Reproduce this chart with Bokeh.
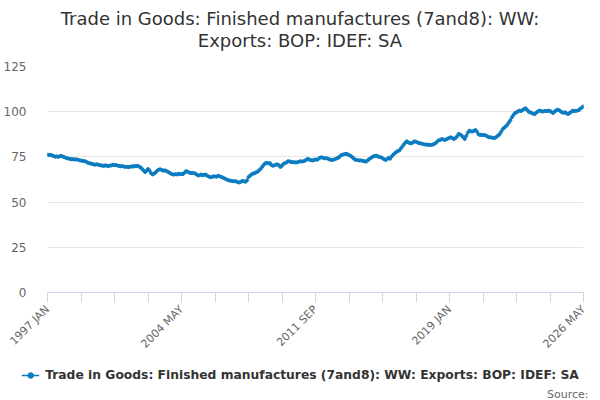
import math

from bokeh.embed import file_html
from bokeh.layouts import column
from bokeh.models import Div, FixedTicker, Legend, LegendItem, Title
from bokeh.plotting import figure
from bokeh.resources import INLINE

# monthly values, 1997 JAN .. 2026 MAY
values = [
    76.3, 76.0, 76.2, 75.8, 75.5, 75.1, 75.3, 75.0, 75.4, 75.6, 75.2, 74.9,  # 1997
    74.5, 74.3, 74.0, 73.9, 73.6, 73.8, 73.5, 73.7, 73.4, 73.1, 73.0, 72.8,  # 1998
    72.7, 72.5, 72.0, 71.6, 71.4, 71.2, 71.0, 70.6, 70.9, 70.8, 70.5, 70.3,  # 1999
    70.2, 70.0, 70.4, 70.1, 69.9, 70.2, 70.3, 70.6, 70.4, 70.5, 70.2, 70.0,  # 2000
    69.8, 69.9, 69.7, 69.5, 69.6, 69.3, 69.5, 69.8, 69.6, 70.0, 69.8, 70.1,  # 2001
    69.7, 69.2, 68.5, 67.6, 66.6, 67.2, 68.3, 67.5, 66.0, 65.3, 65.8, 66.4,  # 2002
    67.3, 67.9, 68.2, 67.8, 67.4, 67.6, 67.2, 66.8, 66.3, 65.8, 65.4, 65.2,  # 2003
    65.5, 65.3, 65.7, 65.4, 65.6, 65.5, 66.3, 67.1, 66.8, 66.4, 66.0, 66.2,  # 2004
    66.0, 65.8, 65.2, 64.7, 64.9, 65.3, 64.8, 65.1, 65.2, 64.5, 64.1, 63.8,  # 2005
    63.9, 64.3, 64.2, 64.0, 64.5, 64.3, 64.0, 63.6, 63.2, 62.8, 62.4, 62.0,  # 2006
    61.9, 61.7, 61.5, 61.6, 61.4, 61.0, 60.8, 61.3, 61.7, 61.5, 61.2, 62.0,  # 2007
    63.9, 64.6, 65.3, 65.8, 66.0, 66.5, 66.8, 67.6, 68.4, 69.5, 70.6, 71.5,  # 2008
    71.7, 71.4, 71.6, 70.5, 70.1, 70.4, 70.7, 70.9, 70.3, 69.4, 70.2, 71.2,  # 2009
    71.5, 72.0, 72.6, 72.5, 72.2, 72.0, 72.1, 71.9, 72.0, 72.3, 72.6, 72.4,  # 2010
    72.6, 72.9, 73.4, 73.9, 73.5, 73.2, 73.0, 73.3, 73.6, 73.4, 74.0, 74.6,  # 2011
    74.8, 74.5, 74.2, 74.3, 74.1, 73.6, 73.4, 73.3, 73.5, 73.8, 74.2, 74.5,  # 2012
    75.3, 76.0, 76.3, 76.5, 76.7, 76.5, 76.0, 75.6, 75.0, 74.2, 73.5, 73.3,  # 2013
    73.2, 73.0, 73.1, 72.8, 72.6, 72.4, 72.9, 73.6, 74.2, 74.8, 75.3, 75.5,  # 2014
    75.7, 75.3, 74.9, 74.8, 74.3, 73.7, 73.3, 73.8, 74.5, 74.0, 75.2, 76.2,  # 2015
    77.0, 77.6, 78.3, 78.5, 79.6, 80.7, 81.8, 82.9, 83.6, 83.0, 82.6, 82.5,  # 2016
    83.0, 83.6, 83.4, 83.0, 82.6, 82.5, 82.3, 82.0, 81.8, 81.9, 81.6, 81.7,  # 2017
    81.6, 81.8, 82.2, 82.7, 83.6, 84.2, 84.4, 84.9, 84.6, 84.4, 84.8, 85.2,  # 2018
    85.6, 85.8, 85.3, 84.9, 85.5, 86.4, 87.7, 87.4, 86.8, 85.9, 84.9, 86.6,  # 2019
    88.4, 89.5, 89.2, 89.0, 89.4, 89.9, 89.0, 87.6, 87.1, 87.3, 87.0, 87.1,  # 2020
    86.8, 86.3, 85.8, 85.9, 85.6, 85.5, 85.6, 86.2, 86.9, 87.7, 89.0, 90.5,  # 2021
    91.2, 91.9, 92.8, 94.1, 95.3, 96.9, 98.2, 99.3, 99.6, 100.2, 100.6, 100.4,  # 2022
    100.9, 101.5, 101.9, 101.0, 100.0, 99.6, 99.3, 98.9, 98.7, 99.5, 100.1, 100.6,  # 2023
    100.4, 100.1, 100.2, 100.5, 100.3, 100.6, 100.4, 99.8, 99.3, 100.0, 100.7, 101.1,  # 2024
    100.8, 100.2, 99.6, 99.4, 99.7, 99.0, 98.7, 99.4, 100.0, 100.6, 100.3, 100.5,  # 2025
    100.6, 100.9, 101.8, 102.3, 103.0,  # 2026
]
months = list(range(len(values)))

x_ticks = list(range(0, 353, 22))
x_labels = {0: "1997 JAN", 88: "2004 MAY", 176: "2011 SEP", 264: "2019 JAN", 352: "2026 MAY"}
y_ticks = [0, 25, 50, 75, 100, 125]

series_name = "Trade in Goods: Finished manufactures (7and8): WW: Exports: BOP: IDEF: SA"
title_lines = ["Trade in Goods: Finished manufactures (7and8): WW:", "Exports: BOP: IDEF: SA"]

FONT = "DejaVu Sans"
BLUE = "#0b7cc1"

# two-line centred heading
head = Div(text="<br>".join(title_lines), width=600, height=58, margin=0,
           styles={"font-family": FONT, "font-size": "18px", "line-height": "22px",
                   "color": "#333333", "text-align": "center", "padding-top": "8px",
                   "box-sizing": "border-box", "width": "600px"})

p = figure(width=600, height=300, output_backend="svg", toolbar_location=None,
           x_range=(0, 352), y_range=(0, 125),
           min_border_left=46, min_border_right=17, min_border_top=8,
           min_border_bottom=66)
p.outline_line_color = None
p.title.visible = False

line = p.line(months, values, line_color=BLUE, line_width=1.5)
dots = p.scatter(months, values, size=3, fill_color=BLUE, line_color=BLUE)

# x axis
xa = p.xaxis[0]
xa.ticker = FixedTicker(ticks=x_ticks)
xa.major_label_overrides = {t: x_labels.get(t, "") for t in x_ticks}
xa.major_label_orientation = math.pi / 4
xa.major_label_text_font = FONT
xa.major_label_text_font_size = "11px"
xa.major_label_text_color = "#666666"
xa.axis_line_color = "#ccd6eb"
xa.major_tick_line_color = "#ccd6eb"
xa.major_tick_out = 10
xa.major_tick_in = 0
xa.minor_tick_line_color = None
p.xgrid.grid_line_color = None

# y axis
ya = p.yaxis[0]
ya.ticker = FixedTicker(ticks=y_ticks)
ya.axis_line_color = None
ya.major_tick_line_color = None
ya.minor_tick_line_color = None
ya.major_label_text_font = FONT
ya.major_label_text_font_size = "12px"
ya.major_label_text_color = "#666666"
ya.major_label_standoff = 15
p.ygrid.grid_line_color = "#e6e6e6"

# legend + source strip under the chart; the key glyphs reuse the first
# data point but the strip's ranges keep it out of view
leg = figure(width=600, height=42, output_backend="svg", toolbar_location=None,
             x_range=(-10, -5), y_range=(-10, -5),
             min_border_left=0, min_border_right=0, min_border_top=10,
             min_border_bottom=0)
leg.outline_line_color = None
leg.axis.visible = False
leg.grid.grid_line_color = None
leg.title.visible = False
key_line = leg.line(months[:1], values[:1], line_color=BLUE, line_width=1.5)
key_dot = leg.scatter(months[:1], values[:1], size=4, fill_color=BLUE, line_color=BLUE)

legend = Legend(items=[LegendItem(label=series_name, renderers=[key_line, key_dot])],
                orientation="horizontal", location="top_center",
                label_text_font=FONT, label_text_font_size="12.3px",
                label_text_font_style="bold", label_text_color="#333333",
                glyph_width=18, glyph_height=14, label_standoff=6, padding=0, margin=0,
                border_line_color=None, background_fill_alpha=0)
leg.add_layout(legend, "center")

source = Title(text="Source:", align="right", text_font=FONT, text_font_size="11px",
               text_font_style="normal", text_color="#666666", offset=12, standoff=0)
leg.add_layout(source, "below")

open("out.html", "w").write(file_html(column(head, p, column(leg), spacing=0), INLINE))
